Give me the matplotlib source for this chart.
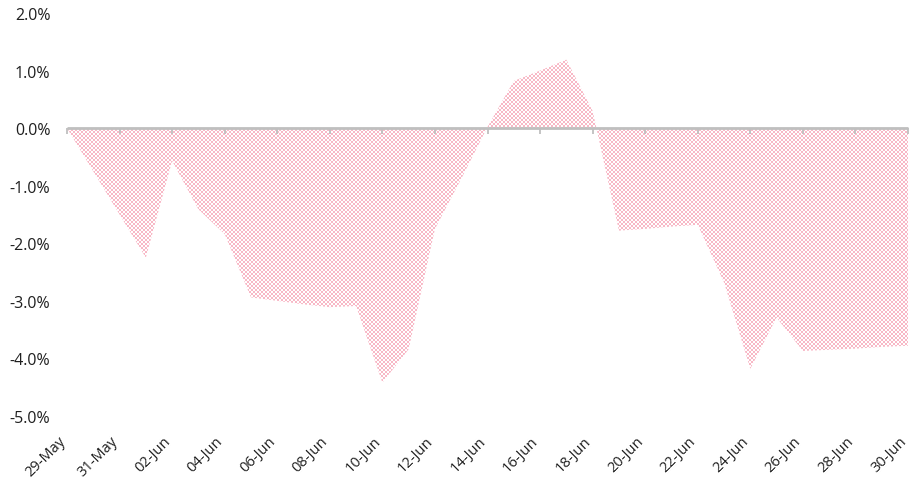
import numpy as np
import pandas as pd
import matplotlib
matplotlib.use("Agg")
import matplotlib.pyplot as plt
import matplotlib.dates as mdates
import matplotlib.transforms as mtransforms
from matplotlib.ticker import FuncFormatter

plt.rcParams['font.family'] = ['Open Sans', 'DejaVu Sans']

dates = pd.date_range("2023-05-29", "2023-06-30", freq="D")
values = [0.0, -0.75, -1.50, -2.25, -0.57, -1.41, -1.84, -2.94, -3.00, -3.06,
          -3.11, -3.09, -4.42, -3.84, -1.75, -0.88, 0.02, 0.82, 1.00, 1.19,
          0.30, -1.78, -1.75, -1.71, -1.68, -2.68, -4.18, -3.29, -3.87, -3.85,
          -3.83, -3.80, -3.78]
yticks = [2, 1, 0, -1, -2, -3, -4, -5]

W, H, DPI = 911, 485, 100
fig = plt.figure(figsize=(W / DPI, H / DPI), dpi=DPI)
left_px, right_px, top_px, bot_px = 67, 908, 14, 417
rect = [left_px / W, 1 - bot_px / H, (right_px - left_px) / W, (bot_px - top_px) / H]
ax = fig.add_axes(rect)

x = mdates.date2num(dates.to_pydatetime())
y = np.array(values)
xt = x[::2]
ax.set_xlim(x[0], x[-1])
ax.set_ylim(-5, 2)

poly = ax.fill_between(x, 0, y, facecolor='none', edgecolor='none', linewidth=0)

# checker texture clipped to the area
aw, ah = right_px - left_px, bot_px - top_px
ii, jj = np.indices((ah, aw))
chk = ((ii // 2 + jj // 2) % 2 == 0)
img = np.ones((ah, aw, 3))
pink = np.array([248, 184, 198]) / 255.0
img[chk] = pink
im = ax.imshow(img, extent=[0, 1, 0, 1], transform=ax.transAxes, aspect='auto',
               interpolation='nearest', zorder=1)
im.set_clip_path(poly.get_paths()[0], transform=ax.transData)

for s in ax.spines.values():
    s.set_visible(False)

ax.set_yticks(yticks)
ax.yaxis.set_major_formatter(FuncFormatter(lambda v, p: f"{v:.1f}%"))
ax.tick_params(axis='y', length=0, pad=12, labelsize=11.5, labelcolor='#1f1f1f')

ax.set_xticks(xt)
ax.xaxis.set_major_formatter(mdates.DateFormatter('%d-%b'))
ax.tick_params(axis='x', length=0, pad=16, labelsize=10.5, labelcolor='#1f1f1f')
shift = mtransforms.ScaledTranslation(-4 / DPI, 0, fig.dpi_scale_trans)
for lab in ax.get_xticklabels():
    lab.set_rotation(45)
    lab.set_ha('right')
    lab.set_va('center')
    lab.set_rotation_mode('anchor')
    lab.set_transform(lab.get_transform() + shift)

# zero-line axis with tick marks
ax2 = fig.add_axes(rect, sharex=ax, sharey=ax)
ax2.patch.set_visible(False)
for k in ['top', 'left', 'right']:
    ax2.spines[k].set_visible(False)
ax2.spines['bottom'].set_position(('data', 0))
ax2.spines['bottom'].set_color('#bfbfbf')
ax2.spines['bottom'].set_linewidth(2)
ax2.spines['bottom'].set_capstyle('butt')
ax2.tick_params(axis='x', direction='out', length=4, width=1.3, color='#bfbfbf',
                labelbottom=False)
ax2.tick_params(axis='y', left=False, labelleft=False)
ax2.set_xticks(xt)

fig.savefig("out.png", dpi=DPI)
